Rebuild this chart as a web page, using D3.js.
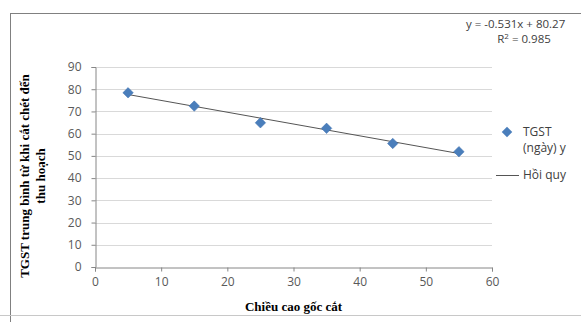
<!DOCTYPE html>
<html>
<head>
<meta charset="utf-8">
<script src="https://cdn.jsdelivr.net/npm/d3@7"></script>
<style>
  body { margin: 0; background: #fff; }
  svg { display: block; }
  .tick text { font-family: "Open Sans", "Liberation Sans", Arial, sans-serif; font-size: 12px; fill: #595959; }
</style>
</head>
<body>
<svg id="chart" width="581" height="322"></svg>
<script>
// chieu cao goc cat (x) and TGST (y)
const heights = [5, 15, 25, 35, 45, 55];
const tgst = [78.4, 72.4, 64.9, 62.4, 55.6, 51.9];
const xTicks = [0, 10, 20, 30, 40, 50, 60];
const yTicks = [0, 10, 20, 30, 40, 50, 60, 70, 80, 90];
const slope = -0.531, intercept = 80.27;
const trendX = [5, 55];

const svg = d3.select('#chart');
const W = 581, H = 322;

// outer frame
svg.append('line').attr('x1', 10).attr('x2', W).attr('y1', 13.5).attr('y2', 13.5).attr('stroke', '#808080');
svg.append('line').attr('x1', 10.5).attr('x2', 10.5).attr('y1', 13).attr('y2', H).attr('stroke', '#808080');
svg.append('line').attr('x1', 0).attr('x2', W).attr('y1', 315.5).attr('y2', 315.5).attr('stroke', '#c8c8c8');

const x = d3.scaleLinear().domain([0, 60]).range([95, 492]);
const y = d3.scaleLinear().domain([0, 90]).range([267, 67]);

// gridlines
svg.append('g').selectAll('line')
  .data(yTicks.filter(d => d > 0))
  .enter().append('line')
  .attr('x1', x(0)).attr('x2', x(60))
  .attr('y1', d => Math.round(y(d)) + 0.5).attr('y2', d => Math.round(y(d)) + 0.5)
  .attr('stroke', '#d9d9d9');

const xAxis = svg.append('g')
  .attr('transform', `translate(0,${Math.round(y(0)) + 0.5})`)
  .call(d3.axisBottom(x).tickValues(xTicks).tickSize(4).tickPadding(6).tickFormat(d3.format('d')));
const yAxis = svg.append('g')
  .attr('transform', `translate(${Math.round(x(0)) + 0.5},0)`)
  .call(d3.axisLeft(y).tickValues(yTicks).tickSize(4).tickPadding(10).tickFormat(d3.format('d')));
[xAxis, yAxis].forEach(a => {
  a.select('.domain').attr('stroke', '#868686');
  a.selectAll('.tick line').attr('stroke', '#868686');
});

// trend line
svg.append('path')
  .datum(trendX)
  .attr('d', d3.line().x(d => x(d)).y(d => y(slope * d + intercept)))
  .attr('stroke', '#555').attr('stroke-width', 1).attr('fill', 'none');

// points
const diamond = d3.symbol().type(d3.symbolDiamond2).size(70);
svg.append('g').selectAll('path')
  .data(heights.map((h, i) => [h, tgst[i]]))
  .enter().append('path')
  .attr('d', diamond)
  .attr('transform', d => `translate(${x(d[0])},${y(d[1])})`)
  .attr('fill', '#4a7ebb').attr('stroke', '#3d6fae').attr('stroke-width', 0.5);

// equation
const eq = svg.append('g').style('font-family', '"Open Sans", "Liberation Sans", Arial, sans-serif')
  .style('font-size', '11.5px').attr('fill', '#404040');
eq.append('text').attr('x', 466).attr('y', 28).text('y = -0.531x + 80.27');
const r2 = eq.append('text').attr('x', 524).attr('y', 43).attr('text-anchor', 'middle');
r2.append('tspan').text('R');
r2.append('tspan').attr('dy', -4).style('font-size', '8px').text('2');
r2.append('tspan').attr('dy', 4).text(' = 0.985');

// legend
const lg = svg.append('g').style('font-family', '"Open Sans", "Liberation Sans", Arial, sans-serif')
  .style('font-size', '12px').attr('fill', '#404040');
lg.append('path').attr('d', diamond).attr('transform', 'translate(507,132)').attr('fill', '#4a7ebb');
lg.append('text').attr('x', 523).attr('y', 136).text('TGST');
lg.append('text').attr('x', 523).attr('y', 152).text('(ngày) y');
lg.append('line').attr('x1', 496).attr('x2', 519).attr('y1', 175.5).attr('y2', 175.5).attr('stroke', '#555');
lg.append('text').attr('x', 523).attr('y', 179).text('Hồi quy');

// axis titles
svg.append('text')
  .attr('x', x(30)).attr('y', 311)
  .attr('text-anchor', 'middle')
  .style('font-family', '"Liberation Serif", "Times New Roman", serif')
  .style('font-weight', 'bold').style('font-size', '13px')
  .text('Chiều cao gốc cắt');

const yt = svg.append('text')
  .attr('transform', 'translate(29,176) rotate(-90)')
  .attr('text-anchor', 'middle')
  .style('font-family', '"Liberation Serif", "Times New Roman", serif')
  .style('font-weight', 'bold').style('font-size', '13px');
yt.append('tspan').attr('x', 0).attr('y', 0).text('TGST trung bình từ khi cắt chét đến');
yt.append('tspan').attr('x', 0).attr('y', 16).text('thu hoạch');
</script>
</body>
</html>
